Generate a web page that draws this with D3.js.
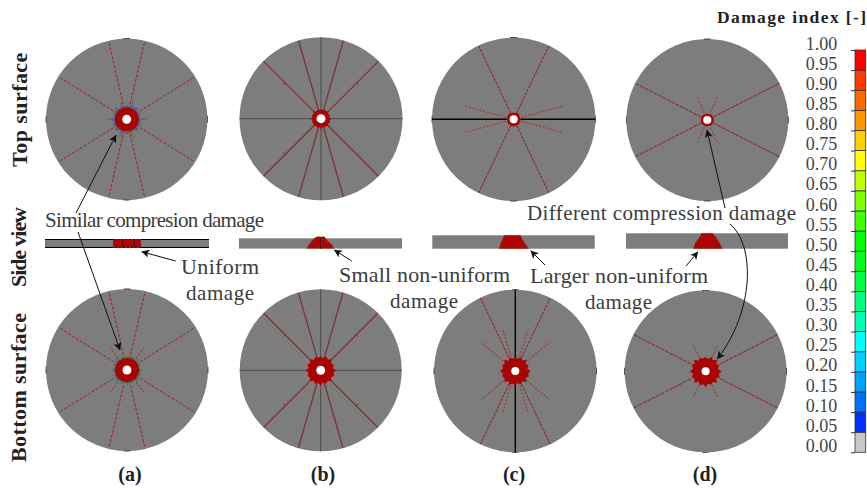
<!DOCTYPE html>
<html><head><meta charset="utf-8">
<script src="https://cdn.jsdelivr.net/npm/d3@7"></script>
<style>html,body{margin:0;padding:0;background:#fff}svg{display:block}text{font-family:"Liberation Serif",serif;fill:#3c3c3c}</style>
</head><body><svg id="c" width="867" height="489"></svg>
<script>
// ---- Data ----
const legendTicks=[0,.05,.1,.15,.2,.25,.3,.35,.4,.45,.5,.55,.6,.65,.7,.75,.8,.85,.9,.95,1];
const legendColors=["#c8c8c8","#0030ff","#0070ff","#00a0ff","#00d0ff","#00ffff","#00ffb0","#00ff80","#00ff40","#00ff20","#00ff00","#40ff00","#80ff00","#c0ff00","#ffff00","#ffd000","#ff9500","#ff6a00","#ff3c00","#ff0000"];
const panelLetters=["(a)","(b)","(c)","(d)"];
const rowLabels=["Top surface","Side view","Bottom surface"];
// crack angles in degrees
const longA=[77,103,148,32,212,328,257,283];
const longB=[74,106,135,45,225,315,254,286];
const longC=[64.5,115.5,244.5,295.5];
const longD=[27,153,207,333];
const shortTopA=[0,180,70,110,250,290];
const shortTopC=[15,165,195,345];
const shortTopD=[67,113,247,293];
const shortBotA=[53,127,233,307];
const shortBotC=[73,107,253,287,40,140,220,320];
const shortBotD=[65,115,245,295];
// crack reach and damage radii as fractions of the disc radius
const shortReach={topA:.25,topC:.62,topD:.3,botA:.34,botC:.55,botD:.36};
const damageRadius={topA:.15,topB:.115,topC:.085,topD:.08,botA:.15,botB:.17,botC:.17,botD:.175};
const holeRadius=[.055,.055,.05,.05];
const spikes=[1,.9,1.08,.94,1.14,.91,1.04,.88,1.12,.95,1.06,.9,1.13,.92,1.03,.89,1.1,.93,1.07,.9,1.12,.94,1.02,.91,1.11,.89,1.05,.93,1.14,.9,1.04,.92];
// side-view damage outlines: [position along specimen, height through thickness]
const sideA=[[-.17,0],[.17,0],[.17,1],[-.17,1]];
const sideB=[[-.17,0],[.17,0],[.14,.4],[.08,.8],[.05,1.15],[-.05,1.15],[-.1,.8],[-.14,.4]];
const sideC=[[-.18,0],[.19,0],[.13,.5],[.1,.8],[.09,1],[-.12,1],[-.13,.8],[-.16,.4]];
const sideD=[[-.17,0],[.19,0],[.16,.35],[.12,.7],[.07,1],[-.07,1],[-.1,.7],[-.15,.35]];

// ---- Layout ----
const svg=d3.select("#c");
const rad=Math.PI/180;
function pt(cx,cy,r,a){return [cx+r*Math.cos(a*rad),cy-r*Math.sin(a*rad)];}
const g=svg.append("g");

function disc(o){
  const R=d3.scaleLinear().domain([0,1]).range([0,o.r]);
  const d=g.append("g");
  d.append("circle").attr("cx",o.cx).attr("cy",o.cy).attr("r",R(1)).attr("fill","#7d7d7d");
  // rim marks
  const arc=d3.arc().innerRadius(R(1)-.3).outerRadius(R(1)+.4);
  if(o.rim) [0,90,180,270].forEach(a=>{
    d.append("path").attr("transform",`translate(${o.cx},${o.cy})`).attr("fill","#222")
     .attr("d",arc({startAngle:(a-2.5)*rad,endAngle:(a+2.5)*rad}));
  });
  // axis lines
  (o.axes||[]).forEach(ax=>{
    const a=pt(o.cx,o.cy,R(1),ax.a),b=pt(o.cx,o.cy,R(1),ax.a+180);
    d.append("line").attr("x1",a[0]).attr("y1",a[1]).attr("x2",b[0]).attr("y2",b[1])
      .attr("stroke",ax.c).attr("stroke-width",ax.w);
  });
  // long cracks
  d.selectAll(null).data(o.long).join("line")
    .attr("x1",a=>pt(o.cx,o.cy,R(.08),a)[0]).attr("y1",a=>pt(o.cx,o.cy,R(.08),a)[1])
    .attr("x2",a=>pt(o.cx,o.cy,R(.995),a)[0]).attr("y2",a=>pt(o.cx,o.cy,R(.995),a)[1])
    .attr("stroke",o.col).attr("stroke-width",o.w).attr("stroke-dasharray",o.dash||null);
  // side ticks along solid cracks
  if(o.nicks) [45,135,225,315].forEach(a=>{
    const p=pt(o.cx,o.cy,R(.62),a),q=pt(p[0],p[1],3,a+(a%180===45?-90:90));
    d.append("line").attr("x1",p[0]).attr("y1",p[1]).attr("x2",q[0]).attr("y2",q[1])
      .attr("stroke",o.col).attr("stroke-width",1);
  });
  // short cracks
  d.selectAll(null).data(o.short||[]).join("line")
    .attr("x1",a=>pt(o.cx,o.cy,R(.1),a)[0]).attr("y1",a=>pt(o.cx,o.cy,R(.1),a)[1])
    .attr("x2",a=>pt(o.cx,o.cy,R(o.reach),a)[0]).attr("y2",a=>pt(o.cx,o.cy,R(o.reach),a)[1])
    .attr("stroke","#a43a3a").attr("stroke-width",1.2).attr("stroke-dasharray","2 1.6");
  // jagged damage zone
  const star=(f,j)=>d3.lineRadial().curve(d3.curveLinearClosed)
     .angle((s,i)=>i/spikes.length*2*Math.PI).radius(s=>R(o.dmg)*(f+(s-1)*j))(spikes);
  if(o.halo) d.append("path").attr("transform",`translate(${o.cx},${o.cy})`).attr("d",star(1.14,1.2))
     .attr("fill","#5c6f78").attr("stroke",o.halo).attr("stroke-width",.9).attr("stroke-dasharray","2 1.5");
  d.append("path").attr("transform",`translate(${o.cx},${o.cy})`).attr("d",star(1,o.jag)).attr("fill","#a80404");
  d.append("circle").attr("cx",o.cx).attr("cy",o.cy).attr("r",R(o.hole)).attr("fill","#fff");
}
const mid="#8f2c2c", crisp="#a81c1c";
disc({cx:126.7,cy:119.3,r:80.7,long:longA,col:crisp,w:1,dash:"3 1.6",short:shortTopA,reach:shortReach.topA,dmg:damageRadius.topA,hole:holeRadius[0],halo:"#1f5fb0",jag:.15,rim:true});
disc({cx:321,cy:118.7,r:81.5,long:longB,col:"#7f3232",w:1.3,dmg:damageRadius.topB,hole:holeRadius[1],nicks:true,jag:.9,axes:[{a:0,c:"#4a4a4a",w:1},{a:90,c:"#4a4a4a",w:1}]});
disc({cx:513.7,cy:119.3,r:81.7,long:longC,col:mid,w:1.1,dash:"3 1",short:shortTopC,reach:shortReach.topC,dmg:damageRadius.topC,hole:holeRadius[2],jag:1,axes:[{a:0,c:"#000",w:1.6}],rim:true});
disc({cx:707.3,cy:120,r:81,long:longD,col:mid,w:1.1,dash:"4 1",short:shortTopD,reach:shortReach.topD,dmg:damageRadius.topD,hole:holeRadius[3],jag:.4,rim:true});
disc({cx:127,cy:370,r:81,long:longA,col:crisp,w:1,dash:"3 1.6",short:shortBotA,reach:shortReach.botA,dmg:damageRadius.botA,hole:holeRadius[0],halo:"#2f8f6a",jag:.2,rim:true});
disc({cx:320.7,cy:370.3,r:81,long:longB,col:"#7f3232",w:1.3,dmg:damageRadius.botB,hole:holeRadius[1],nicks:true,jag:1,axes:[{a:0,c:"#4a4a4a",w:1},{a:90,c:"#4a4a4a",w:1}]});
disc({cx:515.3,cy:371,r:81.3,long:longC,col:mid,w:1.1,dash:"3 1",short:shortBotC,reach:shortReach.botC,dmg:damageRadius.botC,hole:holeRadius[2],jag:1,axes:[{a:90,c:"#000",w:1.4}],rim:true});
disc({cx:705.6,cy:371.3,r:81,long:longD,col:mid,w:1.1,dash:"4 1",short:shortBotD,reach:shortReach.botD,dmg:damageRadius.botD,hole:holeRadius[3],jag:1.1,rim:true});

// ---- Side views ----
function side(o){
  const x=d3.scaleLinear().domain([-1,1]).range([o.x0,o.x1]);
  const y=d3.scaleLinear().domain([0,1]).range([o.y1,o.y0]);
  const s=g.append("g");
  s.append("rect").attr("x",x(-1)).attr("y",y(1)).attr("width",x(1)-x(-1)).attr("height",y(0)-y(1)).attr("fill","#7d7d7d");
  if(o.edge) [0,1].forEach(v=>s.append("line").attr("x1",x(-1)).attr("x2",x(1)).attr("y1",y(v)).attr("y2",y(v)).attr("stroke","#000").attr("stroke-width",1));
  const ln=d3.line().x(d=>x(d[0])).y(d=>y(d[1])).curve(d3.curveLinearClosed);
  s.append("path").attr("d",ln(o.shape)).attr("fill","#ad0404").attr("stroke",o.fringe).attr("stroke-width",.8).attr("stroke-dasharray","1.5 2.5");
  (o.lines||[]).forEach(u=>s.append("line").attr("x1",x(u)).attr("x2",x(u)).attr("y1",y(1)).attr("y2",y(0)).attr("stroke","#4a0404").attr("stroke-width",1));
}
side({x0:45,x1:209,y0:239.5,y1:247.5,shape:sideA,fringe:"#2b6aa8",edge:true,lines:[-.05,.09]});
side({x0:239,x1:402,y0:238.3,y1:248.6,shape:sideB,fringe:"#3a8a4a",lines:[0]});
side({x0:432.3,x1:594.7,y0:235.3,y1:248.7,shape:sideC,fringe:"#4a9a4a"});
side({x0:626,x1:788,y0:233.3,y1:248.7,shape:sideD,fringe:"#4a9a4a"});

// ---- Colour legend ----
const ly=d3.scaleLinear().domain([0,1]).range([452.3,50]);
const leg=svg.append("g");
leg.selectAll("rect").data(legendColors).join("rect")
  .attr("x",855).attr("width",10.7)
  .attr("y",(c,i)=>ly(legendTicks[i+1])).attr("height",(c,i)=>ly(legendTicks[i])-ly(legendTicks[i+1]))
  .attr("fill",c=>c).attr("stroke","#333").attr("stroke-width",.8);
const ax=leg.append("g").attr("transform","translate(855,0)")
  .call(d3.axisLeft(ly).tickValues(legendTicks).tickSize(4).tickPadding(13.7).tickFormat(d3.format(".2f")));
ax.select(".domain").remove();
ax.selectAll("line").attr("stroke","#333");
ax.selectAll("text").attr("dy","0").attr("y",-5).attr("dominant-baseline","middle").style("font-size","18px").style("font-family",'"Liberation Serif",serif').style("fill","#444");

// ---- Text ----
function txt(s,x,y,opt={}){
  const t=svg.append("text").attr("x",x).attr("y",y).text(s)
    .style("font-size",(opt.size||21)+"px").style("font-weight",opt.bold?"bold":"normal")
    .attr("text-anchor",opt.anchor||"start");
  if(opt.len) t.attr("textLength",opt.len).attr("lengthAdjust","spacing");
  if(opt.rot!==undefined) t.attr("transform",`rotate(${opt.rot} ${x} ${y})`);
  return t;
}
txt("Damage index [-]",717,23,{size:17.5,bold:true,len:149}).style("fill","#222");
txt(rowLabels[0],27,166.7,{size:22,bold:true,rot:-90,len:114}).style("fill","#222");
txt(rowLabels[1],26,287,{size:22,bold:true,rot:-90,len:80}).style("fill","#222");
txt(rowLabels[2],26,462,{size:22,bold:true,rot:-90,len:149}).style("fill","#222");
[[130,481],[323,481],[514,481],[705,481]].forEach((p,i)=>txt(panelLetters[i],p[0],p[1],{size:20,bold:true,anchor:"middle"}).style("fill","#222"));
txt("Similar compresion damage",45,227,{len:219});
txt("Different compression damage",527,220,{len:269});
txt("Uniform",181,274,{size:22,len:78});
txt("damage",186,300,{size:21,len:68});
txt("Small non-uniform",339,282,{size:22,len:171});
txt("damage",390,308,{size:21,len:68});
txt("Larger non-uniform",530,283,{size:22,len:178});
txt("damage",585,309,{size:21,len:67});

// ---- Arrows ----
const defs=svg.append("defs");
defs.append("marker").attr("id","ah").attr("viewBox","0 0 10 10").attr("refX",9.5).attr("refY",5)
  .attr("markerWidth",8.5).attr("markerHeight",8).attr("markerUnits","userSpaceOnUse").attr("orient","auto")
  .append("path").attr("d","M0,0L10,5L0,10L2.5,5Z").attr("fill","#111");
const arrows=[
 "M76,213L116,135","M78,232L120,350","M175.7,261L141.7,251.7","M351.7,261L334.3,250",
 "M545,265L530.7,250.7","M686,266L698,251.7","M725,208L707,130","M730,224C755,245 755,310 717.3,359"];
svg.selectAll("path.arrow").data(arrows).join("path").attr("class","arrow")
  .attr("d",d=>d).attr("fill","none").attr("stroke","#111").attr("stroke-width",1).attr("marker-end","url(#ah)");
</script></body></html>
